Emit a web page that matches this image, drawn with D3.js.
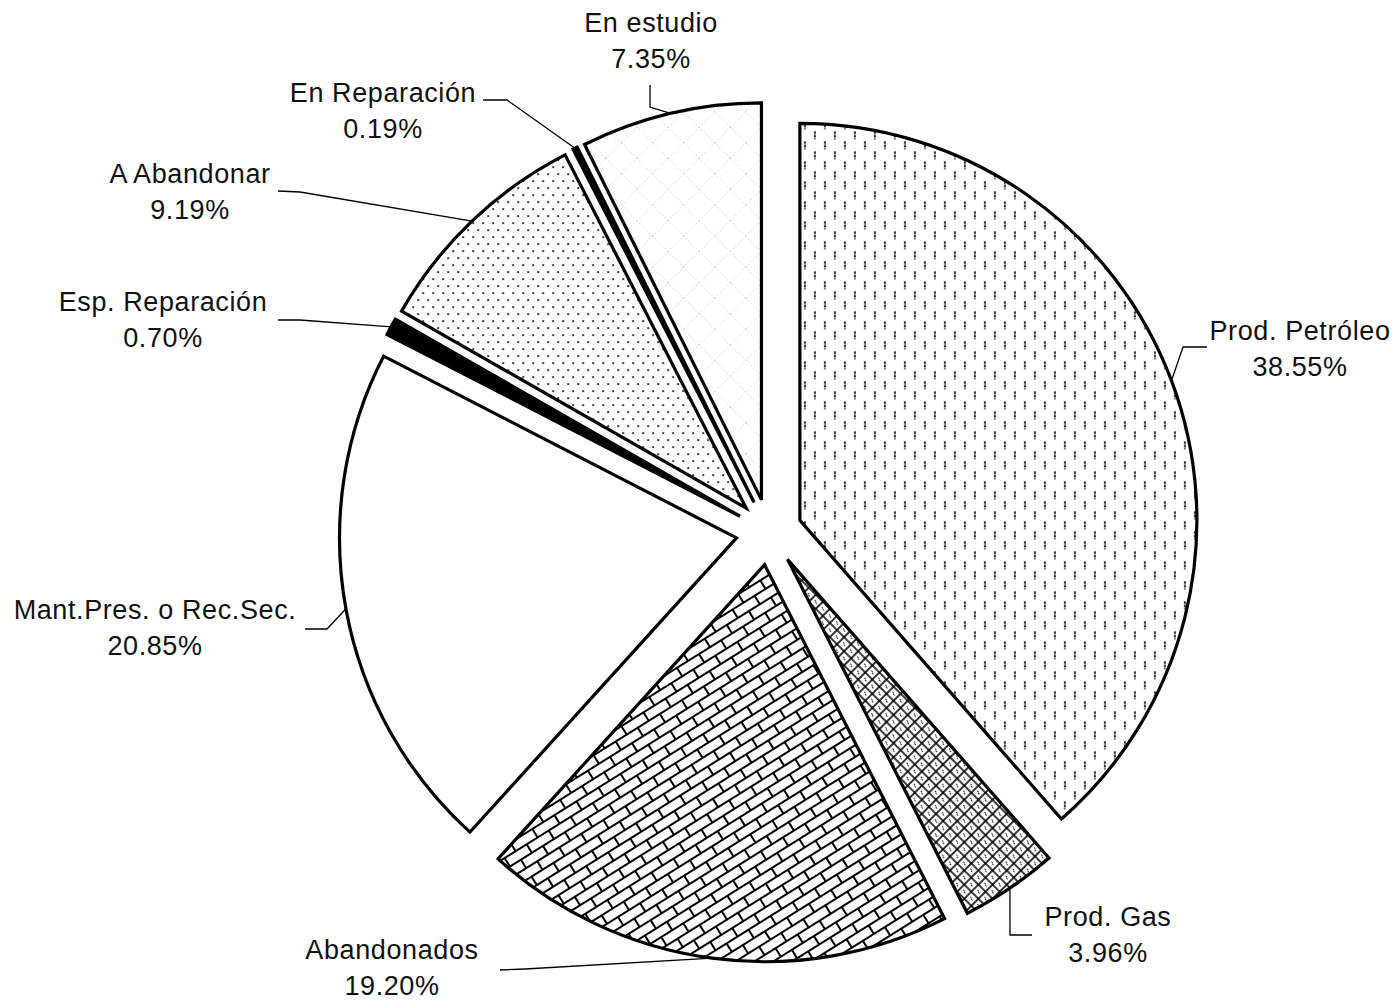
<!DOCTYPE html>
<html>
<head>
<meta charset="utf-8">
<script src="https://cdn.jsdelivr.net/npm/d3@7"></script>
<style>
  body { margin: 0; background: #fff; }
  text { font-family: "Liberation Sans", Arial, Helvetica, sans-serif; font-size: 27px; letter-spacing: 0.6px; fill: #111; }
</style>
</head>
<body>
<script>
const width = 1399;
const height = 1001;

// data, clockwise from 12 o'clock
const categories = ["Prod. Petróleo", "Prod. Gas", "Abandonados", "Mant.Pres. o Rec.Sec.",
                    "Esp. Reparación", "A Abandonar", "En Reparación", "En estudio"];
const shares = [38.55, 3.96, 19.20, 20.85, 0.70, 9.19, 0.19, 7.35];
const fills = ["url(#petroleo)", "url(#gas)", "url(#ladrillo)", "#fff",
               "#000", "url(#puntos)", "#000", "url(#estudio)"];

// label layout: text centre x, first baseline y, leader start, leader elbow
const labelX = [1300, 1108, 392, 155, 163, 190, 383, 651];
const labelY = [340, 926, 959, 619, 311, 183, 102, 32];
const leadStart = [[1207,347],[1032,935],[500,970],[305,629],[278,320],[278,191],[483,100],[650,85]];
const leadElbow = [[1183,347],[1010,935],[525,969],[327,629],[300,320],[300,192],[507,100],[650,107]];

const cx = 769, cy = 532;
const radius = 397;
const explode = 33;

const svg = d3.select('body')
  .append('svg')
  .attr('width', width)
  .attr('height', height);

// fill patterns
const defs = svg.append('defs');

const p1 = defs.append('pattern').attr('id', 'petroleo')
  .attr('patternUnits', 'userSpaceOnUse').attr('width', 20).attr('height', 20);
p1.append('path').attr('d', 'M5,1V9M15,11V19')
  .attr('stroke', '#111').attr('stroke-width', 1.8).attr('stroke-dasharray', '2.5,1');

const p2 = defs.append('pattern').attr('id', 'gas')
  .attr('patternUnits', 'userSpaceOnUse').attr('width', 10).attr('height', 10)
  .attr('patternTransform', 'rotate(45)');
p2.append('path').attr('d', 'M0,5H5V10M5,0V5H10M0,0H2M8,10H10')
  .attr('fill', 'none').attr('stroke', '#000').attr('stroke-width', 1.6);

const p3 = defs.append('pattern').attr('id', 'ladrillo')
  .attr('patternUnits', 'userSpaceOnUse').attr('width', 26).attr('height', 20)
  .attr('patternTransform', 'rotate(-32)');
p3.append('path').attr('d', 'M0,1H26M0,11H26M1,1V11M14,11V21')
  .attr('fill', 'none').attr('stroke', '#000').attr('stroke-width', 2);

const p4 = defs.append('pattern').attr('id', 'puntos')
  .attr('patternUnits', 'userSpaceOnUse').attr('width', 10).attr('height', 14);
p4.append('circle').attr('cx', 2).attr('cy', 2).attr('r', 1.1).attr('fill', '#111');
p4.append('circle').attr('cx', 7).attr('cy', 9).attr('r', 1.1).attr('fill', '#111');

const p5 = defs.append('pattern').attr('id', 'estudio')
  .attr('patternUnits', 'userSpaceOnUse').attr('width', 22).attr('height', 22)
  .attr('patternTransform', 'rotate(45)');
p5.append('path').attr('d', 'M0,0H22M0,0V22')
  .attr('stroke', '#bbb').attr('stroke-width', 0.9).attr('stroke-dasharray', '1.5,2');

const pie = d3.pie().sort(null).value(d => d);
const arcs = pie(shares);
const arc = d3.arc().innerRadius(0).outerRadius(radius);

const mid = d => (d.startAngle + d.endAngle) / 2;
const offset = d => [explode * Math.sin(mid(d)), -explode * Math.cos(mid(d))];

const pieG = svg.append('g').attr('transform', `translate(${cx},${cy})`);

pieG.selectAll('path.slice')
  .data(arcs)
  .enter()
  .append('path')
  .attr('class', 'slice')
  .attr('transform', d => `translate(${offset(d)})`)
  .attr('d', arc)
  .attr('fill', (d, i) => fills[i])
  .attr('stroke', '#000')
  .attr('stroke-width', 3.2)
  .attr('stroke-linejoin', 'miter');

// leader lines from label to slice rim
svg.selectAll('path.leader')
  .data(arcs)
  .enter()
  .append('path')
  .attr('class', 'leader')
  .attr('d', (d, i) => {
    const o = offset(d);
    const ex = cx + o[0] + radius * Math.sin(mid(d));
    const ey = cy + o[1] - radius * Math.cos(mid(d));
    return d3.line()([leadStart[i], leadElbow[i], [ex, ey]]);
  })
  .attr('fill', 'none')
  .attr('stroke', '#000')
  .attr('stroke-width', 1.3);

// labels
const labels = svg.selectAll('text.label')
  .data(arcs)
  .enter()
  .append('text')
  .attr('class', 'label')
  .attr('text-anchor', 'middle');
labels.append('tspan')
  .attr('x', (d, i) => labelX[i])
  .attr('y', (d, i) => labelY[i])
  .text((d, i) => categories[i]);
labels.append('tspan')
  .attr('x', (d, i) => labelX[i])
  .attr('y', (d, i) => labelY[i] + 36)
  .text(d => d3.format('.2f')(d.data) + '%');
</script>
</body>
</html>
